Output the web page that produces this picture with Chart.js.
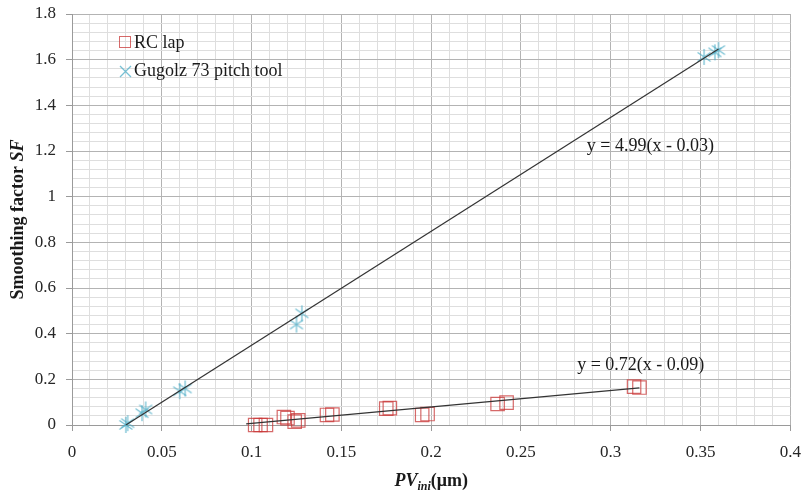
<!DOCTYPE html>
<html>
<head>
<meta charset="utf-8">
<script src="https://cdn.jsdelivr.net/npm/chart.js@4/dist/chart.umd.min.js"></script>
<style>
  html, body { margin: 0; padding: 0; background: #fff; }
  #wrap { width: 801px; height: 493px; }
</style>
</head>
<body>
<div id="wrap"><canvas id="sfChart"></canvas></div>
<script>
// RC lap measurements (PV_ini in um, smoothing factor)
const rcX = [0.102, 0.105, 0.108, 0.118, 0.120, 0.124, 0.126, 0.142, 0.145, 0.175, 0.177, 0.195, 0.198, 0.237, 0.242, 0.313, 0.316];
const rcY = [0.000, 0.000, 0.000, 0.035, 0.030, 0.015, 0.020, 0.044, 0.046, 0.072, 0.074, 0.044, 0.048, 0.092, 0.098, 0.168, 0.164];

// Gugolz 73 pitch tool measurements
const guX = [0.030, 0.031, 0.039, 0.041, 0.060, 0.063, 0.125, 0.128, 0.352, 0.358, 0.360];
const guY = [0.000, 0.008, 0.052, 0.068, 0.148, 0.160, 0.440, 0.489, 1.612, 1.632, 1.642];

// linear fits y = slope * (x - offset), drawn between xFrom and xTo
const fitSlope = [4.99, 0.72];
const fitOffset = [0.03, 0.09];
const fitFrom = [0.03, 0.097];
const fitTo = [0.36, 0.316];
const fitText = ["y = 4.99(x - 0.03)", "y = 0.72(x - 0.09)"];

const seriesNames = ["RC lap", "Gugolz 73 pitch tool"];

const toPoints = (xs, ys) => xs.map((x, i) => ({ x: x, y: ys[i] }));
const fitPoints = i => [fitFrom[i], fitTo[i]].map(x => ({ x: x, y: fitSlope[i] * (x - fitOffset[i]) }));

const starColor = "rgba(75, 172, 198, 0.75)";
const squareColor = "rgba(200, 55, 55, 0.75)";

// excel style asterisk marker (x + vertical bar)
const star = document.createElement("canvas");
star.width = 18;
star.height = 18;
(function () {
  const c = star.getContext("2d");
  c.strokeStyle = starColor;
  c.lineWidth = 1.3;
  c.beginPath();
  c.moveTo(9, 1); c.lineTo(9, 17);
  c.moveTo(2.5, 4.5); c.lineTo(15.5, 13.5);
  c.moveTo(15.5, 4.5); c.lineTo(2.5, 13.5);
  c.stroke();
})();

Chart.defaults.font.family = "'Liberation Serif', 'Times New Roman', serif";
Chart.defaults.color = "#262626";

const textPlugin = {
  id: "texts",
  afterDraw(chart) {
    const ctx = chart.ctx;
    const a = chart.chartArea;
    const xs = chart.scales.x, ys = chart.scales.y;
    ctx.save();
    ctx.fillStyle = "#1a1a1a";
    ctx.textBaseline = "middle";
    ctx.textAlign = "left";

    // legend
    ctx.font = "18px 'Liberation Serif'";
    ctx.fillText(seriesNames[0], a.left + 62, a.top + 29);
    ctx.fillText(seriesNames[1], a.left + 62, a.top + 57);
    ctx.strokeStyle = squareColor;
    ctx.lineWidth = 1;
    ctx.strokeRect(a.left + 47.5, a.top + 22.5, 11, 11);
    ctx.strokeStyle = starColor;
    ctx.lineWidth = 1.3;
    ctx.beginPath();
    ctx.moveTo(a.left + 48, a.top + 52); ctx.lineTo(a.left + 59, a.top + 63);
    ctx.moveTo(a.left + 59, a.top + 52); ctx.lineTo(a.left + 48, a.top + 63);
    ctx.stroke();

    // fit equations
    ctx.fillText(fitText[0], xs.getPixelForValue(0.2867), ys.getPixelForValue(1.22));
    ctx.fillText(fitText[1], xs.getPixelForValue(0.2813), ys.getPixelForValue(0.263));

    // x title: PV_ini (um)
    const bx = "bold 18px 'Liberation Serif'";
    const bi = "italic bold 18px 'Liberation Serif'";
    const sub = "italic bold 12px 'Liberation Serif'";
    ctx.textBaseline = "alphabetic";
    ctx.font = bi; const w1 = ctx.measureText("PV").width;
    ctx.font = sub; const w2 = ctx.measureText("ini").width;
    ctx.font = bx; const w3 = ctx.measureText("(\u03bcm)").width;
    let x0 = (a.left + a.right) / 2 - (w1 + w2 + w3) / 2;
    const yb = 486;
    ctx.font = bi; ctx.fillText("PV", x0, yb); x0 += w1;
    ctx.font = sub; ctx.fillText("ini", x0, yb + 4); x0 += w2;
    ctx.font = bx; ctx.fillText("(\u03bcm)", x0, yb);

    // y title: Smoothing factor SF
    ctx.translate(18, (a.top + a.bottom) / 2);
    ctx.rotate(-Math.PI / 2);
    ctx.textBaseline = "middle";
    ctx.font = bx; const t1 = ctx.measureText("Smoothing factor ").width;
    ctx.font = bi; const t2 = ctx.measureText("SF").width;
    let y0 = -(t1 + t2) / 2;
    ctx.font = bx; ctx.fillText("Smoothing factor ", y0, 0);
    ctx.font = bi; ctx.fillText("SF", y0 + t1, 0);
    ctx.restore();
  }
};

new Chart(document.getElementById("sfChart"), {
  type: "scatter",
  data: {
    datasets: [
      {
        type: "line",
        data: fitPoints(0),
        borderColor: "#333333",
        borderWidth: 1.2,
        pointRadius: 0,
        fill: false
      },
      {
        type: "line",
        data: fitPoints(1),
        borderColor: "#333333",
        borderWidth: 1.2,
        pointRadius: 0,
        fill: false
      },
      {
        label: seriesNames[0],
        data: toPoints(rcX, rcY),
        pointStyle: "rect",
        pointRadius: 9.5,
        borderColor: squareColor,
        backgroundColor: "rgba(0,0,0,0)",
        borderWidth: 1.2,
        clip: false
      },
      {
        label: seriesNames[1],
        data: toPoints(guX, guY),
        pointStyle: star,
        pointRadius: 9,
        clip: false
      }
    ]
  },
  options: {
    responsive: true,
    maintainAspectRatio: false,
    animation: false,
    layout: {
      padding: { top: 14, right: 9, left: 0, bottom: 0 }
    },
    scales: {
      x: {
        type: "linear",
        min: 0,
        max: 0.4,
        afterFit: s => { s.height = 68; s.paddingLeft = 0; s.paddingRight = 0; },
        border: { color: "#9a9a9a" },
        grid: {
          color: c => c.index % 5 === 0 ? "#b3b3b3" : "#dedede",
          tickColor: c => c.index % 5 === 0 ? "#9a9a9a" : "rgba(0,0,0,0)",
          tickLength: 6
        },
        ticks: {
          stepSize: 0.01,
          autoSkip: false,
          maxRotation: 0,
          padding: 11,
          font: { size: 17 },
          callback: (v, i) => i % 5 === 0 ? String(+v.toFixed(2)) : ""
        }
      },
      y: {
        type: "linear",
        min: 0,
        max: 1.8,
        afterFit: s => { s.width = 72; s.paddingTop = 0; s.paddingBottom = 0; },
        border: { color: "#9a9a9a" },
        grid: {
          color: c => c.index % 5 === 0 ? "#b3b3b3" : "#dedede",
          tickColor: c => c.index % 5 === 0 ? "#9a9a9a" : "rgba(0,0,0,0)",
          tickLength: 6
        },
        ticks: {
          stepSize: 0.04,
          autoSkip: false,
          padding: 10,
          font: { size: 17 },
          callback: (v, i) => i % 5 === 0 ? String(+v.toFixed(1)) : ""
        }
      }
    },
    plugins: {
      legend: { display: false },
      tooltip: { enabled: false }
    }
  },
  plugins: [textPlugin]
});
</script>
</body>
</html>
